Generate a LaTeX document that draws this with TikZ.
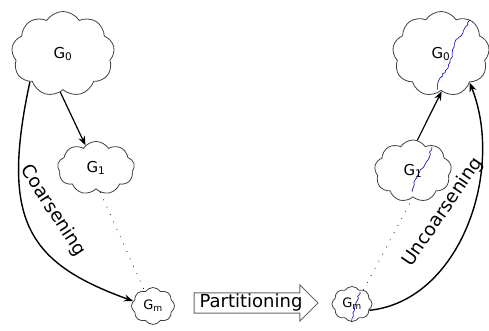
\documentclass[tikz,border=0pt]{standalone}
\usepackage{fontspec}
\setmainfont{DejaVu Sans}
\usetikzlibrary{shapes.symbols,shapes.arrows,arrows.meta,decorations.pathmorphing}

\tikzset{
  graph/.style={cloud, cloud puffs=9, cloud puff arc=115, draw=black!75,
    line width=0.8pt, inner sep=0pt, font=\fontsize{15}{18}\selectfont},
  small/.style={cloud puffs=8, font=\fontsize{13}{15}\selectfont},
  cut/.style={draw=blue!65!black, line width=0.6pt, decorate,
    decoration={random steps, segment length=2.5pt, amplitude=1pt}},
  level/.style={-{Stealth[length=9pt,width=7pt]}, line width=1.2pt},
  phase/.style={font=\fontsize{18.5}{20}\selectfont, inner sep=0pt},
  follow/.style={line width=1pt, dash pattern=on 0.1pt off 8pt, line cap=round},
}

\begin{document}
\begin{tikzpicture}[x=1pt,y=1pt]
  \useasboundingbox (0,0) rectangle (489,331);
  \draw
    (63,277) node[graph, minimum width=103pt, minimum height=85pt] (g0l){G\textsubscript{0}}
    (96,163) node[graph, minimum width=77pt, minimum height=53pt] (g1l){G\textsubscript{1}}
    (153,25) node[graph, small, minimum width=43pt, minimum height=37pt] (gml){G\textsubscript{m}}
    (441,277) node[graph, minimum width=97pt, minimum height=85pt] (g0r){G\textsubscript{0}}
    (413,160) node[graph, minimum width=77pt, minimum height=62pt] (g1r){G\textsubscript{1}}
    (352,27) node[graph, small, minimum width=40pt, minimum height=35pt] (gmr){G\textsubscript{m}};
  \node[single arrow, draw=black!60, line width=0.9pt, inner sep=1pt,
    minimum height=124pt, single arrow head extend=8pt,
    font=\fontsize{18}{20}\selectfont] (part) at (251,28) {Partitioning};
  \node[phase, rotate=-57] (coarse) at (53,120) {Coarsening};
  \node[phase, rotate=55.5] (uncoarse) at (443,119) {Uncoarsening};

  % partition lines
  \draw[cut] (470,311) -- (463,298) -- (455,289) -- (452,276) -- (448,263) -- (440,253) -- (437,241);
  \draw[cut] (432,184) -- (428,171) -- (420,161) -- (415,151) -- (412,139);
  \draw[cut] (360,39) -- (355,25) -- (352,9);

  \begin{scope}[-]
    \draw[level] (g0l.-94) to (g1l.115);
    \draw[follow] (g1l.-80) to (gml.119);
    \draw[level, line width=1.4pt] (g0l.-140) .. controls (0,110) and (28,68) .. (gml.166);
    \draw[follow] (gmr.51) to (g1r.-90);
    \draw[level] (g1r.82) to (g0r.-89);
    \draw[level, line width=1.4pt] (gmr.-20) .. controls (460,30) and (505,160) .. (g0r.-45);
  \end{scope}
\end{tikzpicture}
\end{document}
